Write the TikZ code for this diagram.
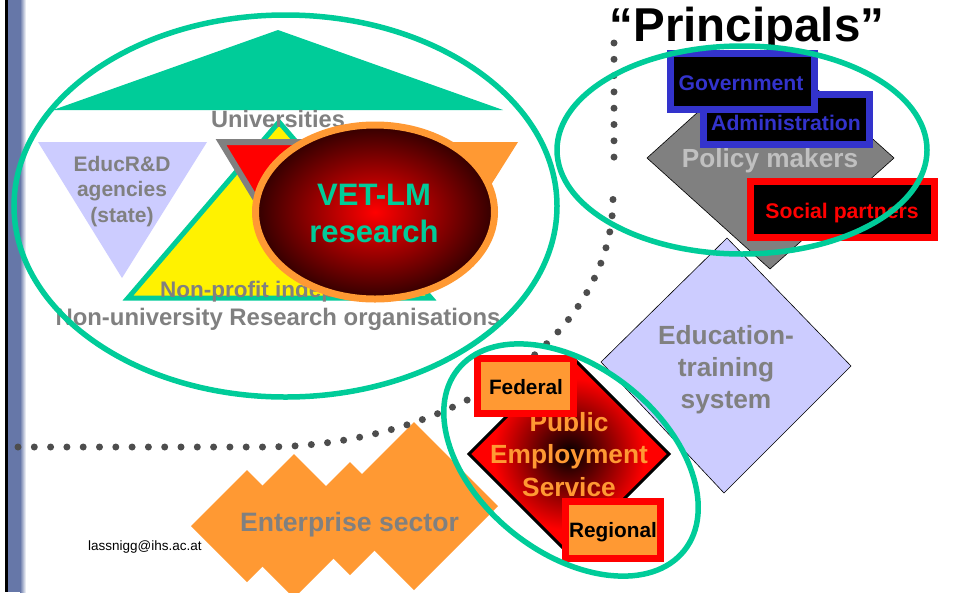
\documentclass[tikz,border=0pt]{standalone}
\usepackage{fontspec}
\setmainfont{Liberation Sans}
\definecolor{tgreen}{HTML}{00CC99}
\definecolor{lav}{HTML}{CCCCFF}
\definecolor{orng}{HTML}{FF9933}
\definecolor{txtgray}{HTML}{808080}
\definecolor{lightgray}{HTML}{C0C0C0}
\definecolor{blu}{HTML}{3333CC}
\definecolor{dotgray}{HTML}{4D4D4D}
\definecolor{barblue}{HTML}{6677A8}
\pgfdeclareradialshading{vetshade}{\pgfpoint{0bp}{0bp}}{color(0bp)=(red); color(31bp)=(black); color(50bp)=(black)}
\pgfdeclareradialshading{pesshade}{\pgfpoint{0bp}{0bp}}{color(0bp)=(black); color(19bp)=(red); color(50bp)=(red)}
\tikzset{
  lbl/.style={inner sep=0pt, anchor=base, align=center},
  ring/.style={draw=tgreen, line width=5.5pt},
  dotline/.style={draw=dotgray, line width=7pt, line cap=round, dash pattern=on 0pt off 16.3pt},
  bluebox/.style={fill=black, draw=blu, line width=7pt},
  redbox/.style={fill=black, draw=red, line width=7pt},
  fedbox/.style={fill=orng, draw=red, line width=7pt},
}
\newcommand{\fsz}[2]{\fontsize{#1}{#2}\selectfont\bfseries}
\begin{document}
\begin{tikzpicture}[x=1pt,y=-1pt]
\useasboundingbox (0,0) rectangle (957,592);
\fill[white] (0,0) rectangle (957,592);
% left bar
\fill[black] (5,0) rectangle (7.5,592);
\fill[barblue] (7.5,0) rectangle (20,592);
\shade[left color=barblue, right color=white] (20,0) rectangle (26,592);

% ---------- research area ----------
\fill[tgreen] (278,30) -- (53,110) -- (503,110) -- cycle;
\fill[lav] (38,142) -- (207,142) -- (122,278) -- cycle;
\filldraw[fill=yellow, draw=tgreen, line width=5pt] (279,122) -- (128,298) -- (431,298) -- cycle;
\filldraw[fill=red, draw=txtgray, line width=6pt] (221,142) -- (388,142) -- (303,277) -- cycle;
\fill[orng] (348,142) -- (518,142) -- (433,277) -- cycle;
\node[lbl, text=txtgray, font=\fsz{23.6}{28}] (univ) at (278,127) {Universities};
\node[lbl, text=txtgray, font=\fsz{21}{25.5}] (educ) at (122,222) {EducR\&D\\agencies\\(state)};
\node[lbl, anchor=base west, text=txtgray, font=\fsz{22.5}{27}] (nonprofit) at (160,297) {Non-profit independent};
\shadedraw[shading=vetshade, draw=orng, line width=7pt] (375,212) ellipse [x radius=119.5pt, y radius=87pt];
\node[lbl, text=tgreen, font=\fsz{31}{37}] (vet) at (374,242) {VET-LM\\research};
\node[lbl, text=txtgray, font=\fsz{23.9}{28}] (nonuni) at (278,325) {Non-university Research organisations};

% ---------- enterprise sector ----------
\fill[orng] (247,470) -- (303,526) -- (247,582) -- (191,526) -- cycle;
\fill[orng] (294,454) -- (366,526) -- (294,598) -- (222,526) -- cycle;
\fill[orng] (350,462) -- (406.5,518.5) -- (350,575) -- (293.5,518.5) -- cycle;
\fill[orng] (414,422) -- (498,506) -- (414,590) -- (330,506) -- cycle;
\node[lbl, text=txtgray, font=\fsz{26.6}{30}] (ent) at (349.5,531) {Enterprise sector};
\node[lbl, anchor=base west, text=black, font=\fontsize{13.5}{16}\selectfont] (mail) at (88,550) {lassnigg@ihs.ac.at};

% ---------- education-training system ----------
\filldraw[fill=lav, draw=black, line width=0.6pt] (727,238) -- (851,366) -- (724,493) -- (601,362) -- cycle;
\node[lbl, text=txtgray, font=\fsz{26.3}{32}] (edu) at (726,408) {Education-\\training\\system};

% ---------- principals ----------
\node[lbl, text=black, font=\fsz{47.5}{52}] (princ) at (747,41) {“Principals”};
\filldraw[fill=txtgray, draw=black, line width=0.6pt] (647,158) -- (770,47) -- (894,158) -- (770,269) -- cycle;
\node[lbl, text=lightgray, font=\fsz{26.2}{30}] (policy) at (770,167) {Policy makers};
\draw[bluebox] (703.5,94.5) rectangle (869.5,144.5);
\node[lbl, text=blu, font=\fsz{21.2}{25}] (admin) at (786,130) {Administration};
\draw[bluebox] (670.5,53.5) rectangle (814.5,109.5);
\node[lbl, text=blu, font=\fsz{21.2}{25}] (gov) at (741,90) {Government};
\draw[redbox] (750.5,181.5) rectangle (934.5,237.5);
\node[lbl, text=red, font=\fsz{21.2}{25}] (social) at (842,218) {Social partners};

% ---------- dotted divider ----------
\coordinate (dA) at (614,43);
\coordinate (dB) at (614,173);
\coordinate (dC) at (18,447);
\coordinate (dD) at (262,447);
\draw[dotline] (dA) -- (dB);
\draw[dotline] (dC) -- (dD) arc [start angle=-90, end angle=0, x radius=351pt, y radius=249pt];

% ---------- public employment service ----------
\shadedraw[shading=pesshade, draw=black, line width=3pt] (469,454) -- (569,354) -- (669,454) -- (569,554) -- cycle;
\node[lbl, text=orng, font=\fsz{26.3}{32.5}] (pes) at (569,496) {Public\\Employment\\Service};
\draw[fedbox] (477.5,358.5) rectangle (573.5,413.5);
\node[lbl, text=black, font=\fsz{20.8}{25}] (fed) at (526,394) {Federal};
\draw[fedbox] (565.5,501.5) rectangle (660.5,558.5);
\node[lbl, text=black, font=\fsz{20.8}{25}] (reg) at (613,537) {Regional};

% ---------- rings ----------
\draw[ring] (285.5,206) ellipse [x radius=271.5pt, y radius=191pt];
\draw[ring] (742,150) ellipse [x radius=185pt, y radius=104pt];
\draw[ring, rotate around={-38.7:(571,460)}] (571,460) ellipse [x radius=145pt, y radius=93pt];
\end{tikzpicture}
\end{document}
